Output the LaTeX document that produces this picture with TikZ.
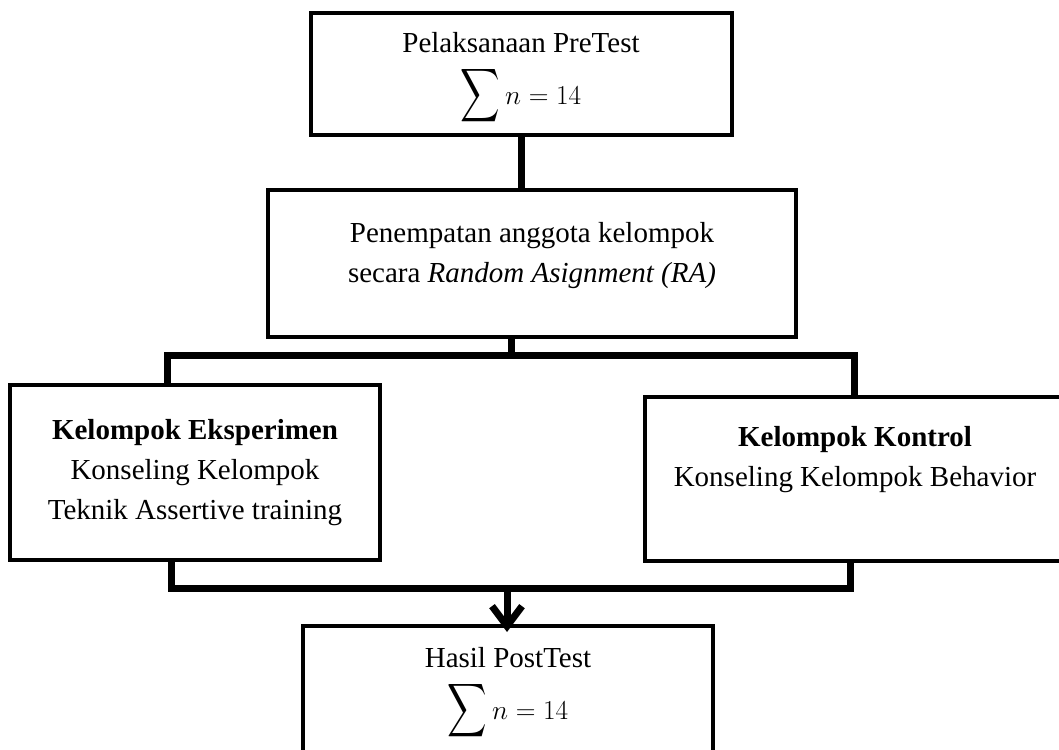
\documentclass[tikz,border=0pt]{standalone}
\usepackage{amsmath}
\usepackage{graphicx}
\usepackage{fontspec}
\setmainfont{Liberation Serif}
\usetikzlibrary{arrows.meta}

\newcommand{\bigsum}{\scalebox{1.1}[1.5]{$\displaystyle\sum$}}

\begin{document}
\begin{tikzpicture}[x=1pt,y=-1pt,
  box/.style={draw,line width=4pt,inner sep=0pt},
  txt/.style={align=center,inner sep=0pt,font=\fontsize{29}{40}\selectfont},
  conn/.style={line width=7pt},
  arr/.style={conn,-{Straight Barb[length=20pt,width=30pt]},shorten >=-8pt}]
\useasboundingbox (0,0) rectangle (1059,749);
% The boxes
\node[box,minimum width=421,minimum height=122] (pre) at (521,74) {};
\node[box,minimum width=528,minimum height=147] (mid) at (532,263.5) {};
\node[box,minimum width=370,minimum height=175] (exp) at (195,472.5) {};
\node[box,minimum width=420,minimum height=164] (ctrl) at (855,479) {};
\node[box,minimum width=410,minimum height=148] (post) at (508,700) {};
% The texts
\node[txt] (pretxt) at (521,79) {Pelaksanaan PreTest\\[12pt]\bigsum\,\scalebox{1.1}{$n = 14$}};
\node[txt] (midtxt) at (532,256) {Penempatan anggota kelompok\\secara \textit{Random Asignment (RA)}};
\node[txt] (exptxt) at (195,473) {\textbf{Kelompok Eksperimen}\\Konseling Kelompok\\Teknik Assertive training};
\node[txt] (ctrltxt) at (855,460) {\textbf{Kelompok Kontrol}\\Konseling Kelompok Behavior};
\node[txt] (posttxt) at (508,694) {Hasil PostTest\\[12pt]\bigsum\,\scalebox{1.1}{$n = 14$}};
% The bus points
\coordinate (split) at (511,355);
\coordinate (busL) at (167,355);
\coordinate (busR) at (854,355);
\coordinate (join) at (507,588);
\coordinate (joinL) at (171,588);
\coordinate (joinR) at (850,588);
% The connectors
\draw[conn] (pre.south) -- (pre.south |- mid.north);
\draw[conn] (split |- mid.south) -- (split);
\draw[conn] (busL |- exp.north) -- (busL) -- (busR) -- (busR |- ctrl.north);
\draw[conn] (joinL |- exp.south) -- (joinL) -- (joinR) -- (joinR |- ctrl.south);
\draw[arr] (join) -- (join |- post.north);
\end{tikzpicture}
\end{document}
